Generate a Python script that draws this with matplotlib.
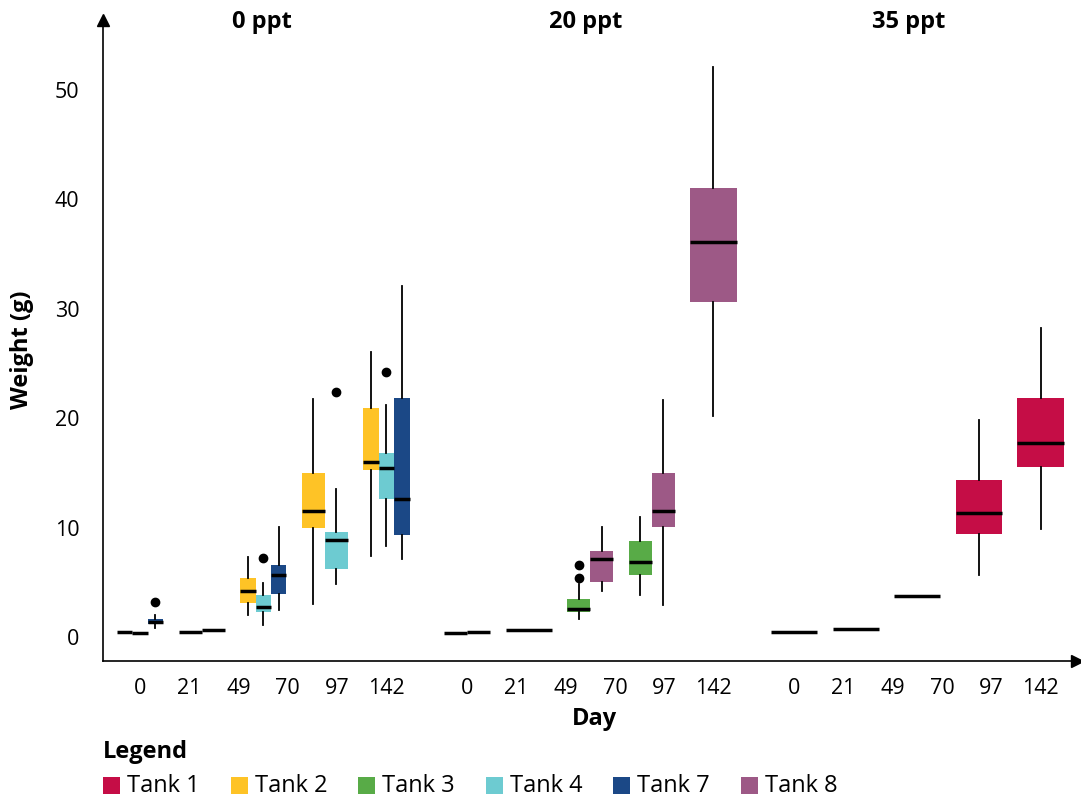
import numpy as np
import matplotlib
matplotlib.use("Agg")
import matplotlib.pyplot as plt
from matplotlib.patches import Rectangle

plt.rcParams['font.family'] = ['Open Sans', 'DejaVu Sans']

# ---------------- data ----------------
salinities = ["0 ppt", "20 ppt", "35 ppt"]
group_days = ["0", "21", "49", "97", "142"]          # sampled groups drawn per panel
tick_days = ["0", "21", "49", "70", "97", "142"]     # tick labels shown per panel
tank_names = ["Tank 1", "Tank 2", "Tank 3", "Tank 4", "Tank 7", "Tank 8"]
tank_colors = ["#C50D46", "#FEC326", "#58AB47", "#6DCBD1", "#1B4886", "#9D5986"]

# box stats per day group: [whisker low, Q1, median, Q3, whisker high]; None = no box
tank2_0ppt = [[0.43] * 5, [0.43] * 5, [2.0, 3.1, 4.2, 5.4, 7.3],
              [3.0, 10.0, 11.5, 15.0, 21.75], [7.4, 15.3, 16.0, 20.9, 26.05]]
tank2_0ppt_out = [[], [], [], [], []]
tank4_0ppt = [[0.34] * 5, [0.61] * 5, [1.1, 2.3, 2.75, 3.85, 4.9],
              [4.85, 6.2, 8.85, 9.6, 13.5], [8.3, 12.6, 15.45, 16.8, 21.2]]
tank4_0ppt_out = [[], [], [7.2], [22.4], [24.2]]
tank7_0ppt = [[0.85, 1.2, 1.4, 1.65, 2.0], None, [2.45, 3.9, 5.65, 6.6, 10.05],
              None, [7.1, 9.3, 12.6, 21.85, 32.1]]
tank7_0ppt_out = [[3.2], [], [], [], []]

tank3_20ppt = [[0.32] * 5, None, [1.65, 2.3, 2.6, 3.5, 4.85],
               [3.85, 5.7, 6.85, 8.8, 10.95], None]
tank3_20ppt_out = [[], [], [5.4, 6.6], [], []]
tank8_20ppt = [[0.5] * 5, [0.6] * 5, [4.2, 5.0, 7.1, 7.85, 10.1],
               [2.9, 10.05, 11.5, 15.0, 21.7], [20.2, 30.6, 36.1, 41.0, 52.1]]
tank8_20ppt_out = [[], [], [], [], []]

tank1_35ppt = [[0.43] * 5, [0.73] * 5, [3.75] * 5,
               [5.67, 9.45, 11.33, 14.35, 19.8], [9.87, 15.57, 17.73, 21.85, 28.2]]
tank1_35ppt_out = [[], [], [], [], []]

panels = [
    [("Tank 2", tank2_0ppt, tank2_0ppt_out), ("Tank 4", tank4_0ppt, tank4_0ppt_out),
     ("Tank 7", tank7_0ppt, tank7_0ppt_out)],
    [("Tank 3", tank3_20ppt, tank3_20ppt_out), ("Tank 8", tank8_20ppt, tank8_20ppt_out)],
    [("Tank 1", tank1_35ppt, tank1_35ppt_out)],
]
color_of = dict(zip(tank_names, tank_colors))

# ---------------- figure ----------------
W, H = 1081, 800
fig = plt.figure(figsize=(W / 100, H / 100), dpi=100)
ax_l, ax_r, ax_b, ax_t = 103, 1077, 661, 20
ax = fig.add_axes([ax_l / W, 1 - ax_b / H, (ax_r - ax_l) / W, (ax_b - ax_t) / H])

P = 5.31       # panel offset in group units
dodge = 0.75

for p, series in enumerate(panels):
    for g in range(len(group_days)):
        present = [(n, s[g], o[g]) for n, s, o in series if s[g] is not None]
        if not present:
            continue
        w = dodge / len(present)
        for i, (name, st, fl) in enumerate(present):
            x = p * P + g - dodge / 2 + w * (i + 0.5)
            stats = dict(whislo=st[0], q1=st[1], med=st[2], q3=st[3], whishi=st[4], fliers=fl)
            ax.bxp([stats], positions=[x], widths=w, patch_artist=True, showcaps=False,
                   manage_ticks=False,
                   boxprops=dict(facecolor=color_of[name], edgecolor='none', linewidth=0),
                   medianprops=dict(color='black', linewidth=2.5, solid_capstyle='butt'),
                   whiskerprops=dict(color='black', linewidth=1.3),
                   flierprops=dict(marker='o', markerfacecolor='black',
                                   markeredgecolor='black', markersize=6))

x0_units = -(140 - ax_l) / 61.6
x1_units = (ax_r - 140) / 61.6
ax.set_xlim(x0_units, x1_units)
ax.set_ylim((637 - ax_b) / 10.94, (637 - ax_t) / 10.94)

for s in ['top', 'right']:
    ax.spines[s].set_visible(False)
for s in ['left', 'bottom']:
    ax.spines[s].set_linewidth(1.2)
ax.plot([0], [1], marker='^', color='black', markersize=8, transform=ax.transAxes, clip_on=False)
ax.plot([1], [0], marker='>', color='black', markersize=8, transform=ax.transAxes, clip_on=False)

ax.set_yticks(range(0, 51, 10))
xt = [p * P + v for p in range(3) for v in np.linspace(0, len(group_days) - 1, len(tick_days))]
ax.set_xticks(xt)
ax.set_xticklabels(tick_days * 3)
ax.tick_params(axis='y', length=0, pad=17, labelsize=15.5)
ax.tick_params(axis='x', length=0, pad=12, labelsize=15.5)

for xc, t in zip([262, 586, 909], salinities):
    fig.text(xc / W, 1 - 22 / H, t, ha='center', va='center', fontsize=17, fontweight='bold')

fig.text(22 / W, 1 - 350 / H, "Weight (g)", rotation=90, ha='center', va='center',
         fontsize=17, fontweight='bold')
fig.text(595 / W, 1 - 719 / H, "Day", ha='center', va='center', fontsize=17, fontweight='bold')
fig.text(103 / W, 1 - 752 / H, "Legend", ha='left', va='center', fontsize=17, fontweight='bold')

for i, (name, col) in enumerate(zip(tank_names, tank_colors)):
    lx = 103 + i * 127.6
    fig.add_artist(Rectangle((lx / W, 1 - 794 / H), 17 / W, 17 / H, facecolor=col,
                             edgecolor='none', transform=fig.transFigure))
    fig.text((lx + 24) / W, 1 - 786 / H, name, ha='left', va='center', fontsize=17)

fig.savefig("out.png", dpi=100)
